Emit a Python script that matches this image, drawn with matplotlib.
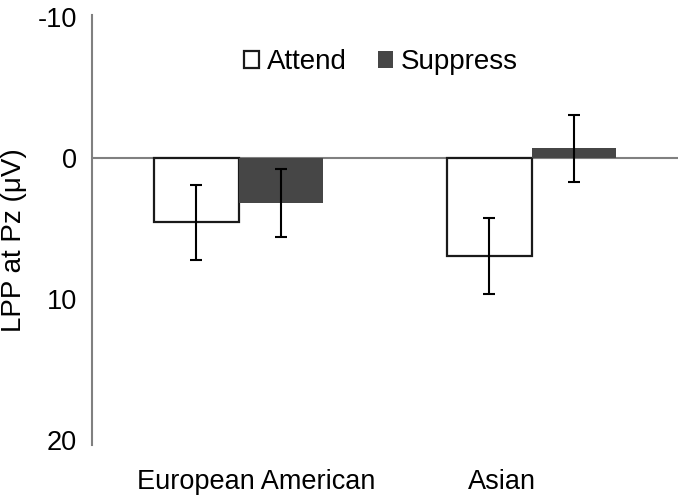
import numpy as np
import matplotlib.pyplot as plt

plt.rcParams['font.family'] = ['Liberation Sans', 'DejaVu Sans']
plt.rcParams['axes.unicode_minus'] = False

groups = ['European American', 'Asian']
attend = [4.55, 6.95]
attend_err = [2.67, 2.67]
suppress = [3.2, -0.7]
suppress_err = [2.4, 2.38]

fig = plt.figure(figsize=(6.78, 4.95), dpi=100)
ax = fig.add_axes([92 / 678, 1 - 445 / 495, 1 - 92 / 678, 430 / 495])

x = np.arange(len(groups))
w = 0.287
ax.axhline(0, color='#808080', linewidth=1.5, zorder=1)
ax.bar(x - w / 2, attend, w, color='white', edgecolor='#1a1a1a', linewidth=1.6,
       label='Attend', zorder=2)
ax.bar(x + w / 2, suppress, w, color='#464646', edgecolor='none',
       label='Suppress', zorder=2)
ax.errorbar(x - w / 2, attend, yerr=attend_err, fmt='none', ecolor='black',
            elinewidth=1.5, capsize=4.5, capthick=1.5, zorder=3)
ax.errorbar(x + w / 2, suppress, yerr=suppress_err, fmt='none', ecolor='black',
            elinewidth=1.5, capsize=4.5, capthick=1.5, zorder=3)

ax.set_xlim(-0.5, 1.5)
ax.set_ylim(20.35, -10.14)
ax.set_yticks([-10, 0, 10, 20])
# category labels sit a little off the group centres in the original
ax.set_xticks([0.06, 0.9])
ax.set_xticklabels(groups, fontsize=19.5)
ax.tick_params(axis='y', length=0, pad=11, labelsize=19.5)
ax.tick_params(axis='x', length=0, pad=17)
for s in ['top', 'right', 'bottom']:
    ax.spines[s].set_visible(False)
ax.spines['left'].set_color('#808080')
ax.spines['left'].set_linewidth(1.5)
ax.set_ylabel('LPP at Pz (μV)', fontsize=20)
ax.yaxis.set_label_coords(-0.111, 0.477)

ax.legend(loc='center', bbox_to_anchor=(0.493, 0.89), ncol=2, frameon=False,
          fontsize=20, handlelength=0.55, handleheight=0.55, handletextpad=0.3,
          columnspacing=1.1)

fig.savefig('out.png', dpi=100)
